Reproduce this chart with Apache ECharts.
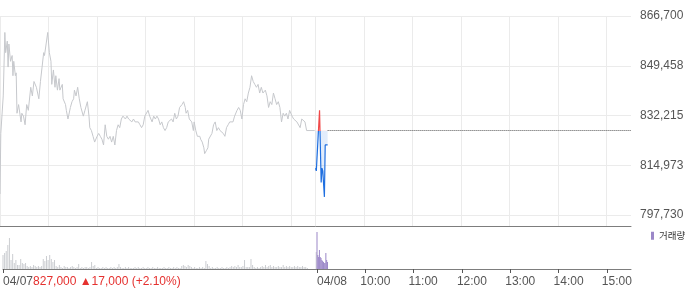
<!DOCTYPE html>
<html><head><meta charset="utf-8">
<script src="https://cdn.jsdelivr.net/npm/echarts@6/dist/echarts.min.js"></script>
<style>html,body{margin:0;padding:0;background:#fff}#c{width:700px;height:289px}</style>
</head><body><div id="c"></div>
<script>
// ---- data ----
const day1Label = '04/07';
const day2Label = '04/08';
const sessionStart = '09:00';
const SESSION_MINUTES = 390;          // 09:00 - 15:30
const priorClose = 810000;            // close before 04/07
const gridTimes = ['04/07 09:00','04/07 10:00','04/07 11:00','04/07 12:00','04/07 13:00','04/07 14:00','04/07 15:00',
                   '04/08 09:00','04/08 10:00','04/08 11:00','04/08 12:00','04/08 13:00','04/08 14:00','04/08 15:00'];
const tickTimes = ['04/07 09:00','04/08 09:00','04/08 10:00','04/08 11:00','04/08 12:00','04/08 13:00','04/08 14:00','04/08 15:00'];

// 04/07 price (minutes after 09:00, price)
const day1Minutes = [0,1,4,6,7,9,10,11,13,15,16,17,19,20,21,23,26,27,29,31,33,35,38,40,42,45,48,50,52,54,55,57,59,61,63,64,66,68,69,71,73,74,77,78,81,82,84,87,89,91,92,94,96,98,100,101,103,105,108,110,111,113,115,117,120,122,124,126,128,130,132,134,136,138,140,142,144,146,148,150,152,155,157,159,161,163,165,167,171,173,175,177,179,181,183,185,188,190,192,194,196,198,200,202,204,206,208,210,212,214,216,218,220,222,225,227,229,230,232,234,235,237,239,240,242,244,245,247,248,250,252,253,255,257,258,260,262,264,266,268,270,272,274,276,278,280,282,284,286,288,290,293,295,297,299,301,303,305,307,309,311,313,315,317,319,321,323,325,328,330,332,334,336,338,340,342,344,346,348,350,352,354,356,358,361,363,365,367,369,371,373,375,377,379,381,389];
const day1Prices = [805000,826000,839000,861000,854000,858000,849000,857000,851000,853000,846000,851000,846000,847000,833000,836000,830000,833000,832000,829000,836000,834000,842000,839000,844000,842000,838000,844000,849000,854000,853000,857000,861000,854000,851000,843000,848000,842000,846000,841000,845000,841000,843000,838000,836000,834000,831000,835000,837000,838000,841000,839000,842000,838000,835000,835000,832000,834000,837000,832000,828000,827000,825000,823000,825000,826000,825000,824000,822000,829000,825000,824000,825000,823000,825000,822000,827000,829000,828000,831000,832000,831000,832000,831000,831000,830000,831000,830000,830000,829000,828000,829000,832000,832000,834000,832000,830000,832000,831000,832000,831000,829000,830000,828000,827000,828000,830000,830000,831000,830000,833000,831000,832000,835000,836000,837000,835000,833000,834000,831000,831000,830000,827000,830000,827000,825000,825000,825000,824000,823000,821000,819000,820000,821000,824000,824000,826000,829000,830000,827000,828000,827000,827000,826000,825000,828000,829000,830000,830000,830000,832000,834000,835000,834000,831000,836000,838000,837000,840000,842000,846000,844000,843000,842000,843000,840000,842000,840000,841000,839000,835000,837000,836000,840000,838000,836000,837000,835000,830000,833000,832000,833000,831000,834000,832000,831000,831000,830000,830000,828000,831000,831000,830000,827000,827000,827000];
// 04/08 price (minutes after 09:00, price)
const day2Minutes = [0,1,5,7,8,9,11,12,15];
const day2Prices = [814000,813000,834000,809000,814000,813000,804000,822000,822000];

// volume, thousand shares
const day1VolStep = 2;  // 04/07 volume read in 2-minute buckets from 09:00
const day1Volume = [14,16,18,24,31,9,15,6,9,4,4,10,6,5,6,3,2,3,2,4,3,2,3,2,3,10,8,13,9,14,10,7,9,3,2,4,
  2,1,3,2,2,1,2,3,2,1,2,5,1,2,1,2,2,1,2,7,3,4,
  1,2,1,1,2,1,2,1,1,2,1,2,1,2,5,
  2,1,1,2,1,2,1,1,1,2,1,2,1,1,2,1,1,2,1,1,2,1,1,2,1,1,
  1,2,1,1,2,1,1,2,1,2,1,1,3,4,3,2,4,3,2,1,2,1,1,2,1,2,1,8,5,3,
  1,2,1,1,2,1,1,2,1,1,2,1,2,3,2,3,2,4,2,2,3,9,2,2,2,10,4,2,1,2,1,
  2,3,2,4,2,3,4,2,3,2,2,3,2,2,4,2,3,2,3,2,2,3,2,3,2,2,3,2,2,1];
const day1AuctionMinute = 389;
const day1AuctionVolume = 17;
const day2Volume = [37,14,12,19,12,11,9,8,7,6,6,16,9,7];  // per minute from 09:00

// ---- build ----
function hm(m){const [h0,m0]=sessionStart.split(':').map(Number);const t=h0*60+m0+m;return String(Math.floor(t/60)).padStart(2,'0')+':'+String(t%60).padStart(2,'0');}
const cats = [];
for (let i=0;i<SESSION_MINUTES;i++) cats.push(day1Label+' '+hm(i));
for (let i=0;i<=SESSION_MINUTES;i++) cats.push(day2Label+' '+hm(i));
const day2Start = SESSION_MINUTES;
const gridIdx = new Set(gridTimes.map(t=>cats.indexOf(t)));
const tickIdx = new Set(tickTimes.map(t=>cats.indexOf(t)));
const fmt = v => Math.round(v).toLocaleString('en-US');

const lastClose = day1Prices[day1Prices.length-1];
const change = lastClose - priorClose;
const changePct = change/priorClose*100;
const base = lastClose;

const day1Data = day1Minutes.map((m,i)=>[m, day1Prices[i]]);
const day2Data = day2Minutes.map((m,i)=>[day2Start+m, day2Prices[i]]);
const vol1 = day1Volume.map((v,i)=>[i*day1VolStep, v]);
vol1.push([day1AuctionMinute, day1AuctionVolume]);
const vol2 = day2Volume.map((v,i)=>[day2Start+i, v]);
const lastIdx = day2Data[day2Data.length-1][0];

const yMin = 797730, yMax = 866700;
const FONT = "'Liberation Sans','Noto Sans CJK KR',sans-serif";

const chart = echarts.init(document.getElementById('c'), null, {renderer:'canvas'});
chart.setOption({
  animation:false,
  textStyle:{fontFamily:FONT},
  grid:[
    {left:0,right:69,top:16,height:210},
    {left:0,right:69,top:16,height:199},
    {left:0,right:69,top:226,height:43}
  ],
  legend:{data:['거래량'],left:651,top:231,icon:'rect',itemWidth:3,itemHeight:8,padding:0,
    textStyle:{fontSize:9.5,color:'#333',fontFamily:"'Noto Sans CJK KR',sans-serif"}},
  visualMap:{type:'piecewise',show:false,seriesIndex:1,dimension:1,
    pieces:[{gt:base,lte:yMax*2,color:'#f04848'},{gte:0,lte:base,color:'#1f6fe0'}]},
  xAxis:[
    {gridIndex:0,type:'category',data:cats,boundaryGap:false,
     axisLine:{show:true,lineStyle:{color:'#7d7d7d'}},axisTick:{show:false},axisLabel:{show:false},
     splitLine:{show:true,interval:(i)=>gridIdx.has(i),lineStyle:{color:'#ebebeb'}}},
    {gridIndex:1,type:'category',data:cats,boundaryGap:false,show:false},
    {gridIndex:2,type:'category',data:cats,boundaryGap:false,
     axisLine:{show:true,lineStyle:{color:'#7d7d7d'}},
     axisTick:{show:true,interval:(i)=>tickIdx.has(i),length:4,lineStyle:{color:'#555'}},
     splitLine:{show:false},
     axisLabel:{interval:(i)=>tickIdx.has(i),margin:7,align:'left',
       formatter:(val,idx)=>{
         if(idx===0) return '{d|'+day1Label+'}{r|'+fmt(lastClose)+' ▲'+fmt(change)+' (+'+changePct.toFixed(2)+'%)}';
         if(idx===day2Start) return '{d|'+day2Label+'}';
         return '{t|'+val.slice(-5)+'}';
       },
       rich:{d:{color:'#555',fontSize:12,fontFamily:FONT},r:{color:'#e5312f',fontSize:12,fontFamily:FONT},
             t:{color:'#555',fontSize:12,fontFamily:FONT,padding:[0,0,0,-5]}}}}
  ],
  yAxis:[
    {gridIndex:0,type:'value',show:false,min:0,max:1},
    {gridIndex:1,type:'value',position:'right',min:yMin,max:yMax,interval:(yMax-yMin)/4,
     axisLine:{show:false},axisTick:{show:false},
     splitLine:{show:true,lineStyle:{color:'#ebebeb'}},
     axisLabel:{margin:9,color:'#555',fontSize:12,formatter:v=>fmt(v)}},
    {gridIndex:2,type:'value',show:false,min:0,max:43}
  ],
  series:[
    {type:'line',xAxisIndex:1,yAxisIndex:1,data:day1Data,symbol:'none',silent:true,
     lineStyle:{color:'#c6c8cc',width:1}},
    {type:'line',xAxisIndex:1,yAxisIndex:1,data:day2Data,symbol:'none',silent:true,
     lineStyle:{width:1.2},areaStyle:{origin:base,opacity:0.13},
     markLine:{silent:true,symbol:'none',label:{show:false},
       lineStyle:{type:'dotted',color:'#555',width:1},
       data:[[{coord:[cats[lastIdx],base]},{coord:[cats[cats.length-1],base]}]]}},
    {type:'bar',xAxisIndex:2,yAxisIndex:2,data:vol1,barWidth:1,silent:true,itemStyle:{color:'#cbcdd1'}},
    {type:'bar',name:'거래량',xAxisIndex:2,yAxisIndex:2,data:vol2,barWidth:1,barGap:'-100%',silent:true,itemStyle:{color:'#9b87c8'}}
  ]
});
</script></body></html>
